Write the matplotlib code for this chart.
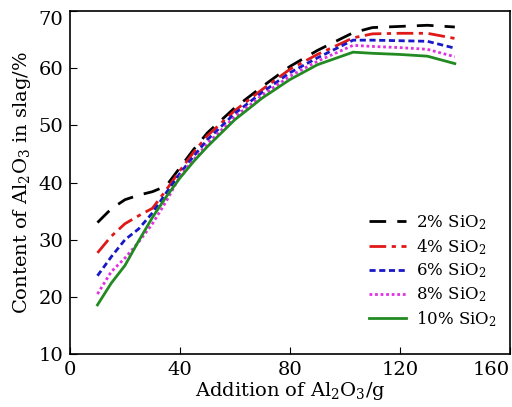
import numpy as np
import matplotlib
matplotlib.use("Agg")
import matplotlib.pyplot as plt

plt.rcParams["font.family"] = ["DejaVu Serif"]
plt.rcParams["mathtext.fontset"] = "dejavuserif"

# Al2O3 addition (g)
addition = [10, 15, 20, 25, 30, 35, 40, 45, 50, 60, 70, 80, 90, 103, 110, 120, 130, 140]

# Al2O3 content in slag (%) for each SiO2 level
sio2_2 = [33.0, 35.4, 37.0, 37.8, 38.4, 39.4, 42.6, 45.8, 48.7, 53.1, 56.8, 60.3, 63.1, 66.2, 67.1, 67.3, 67.5, 67.2]
sio2_4 = [27.7, 30.6, 32.8, 34.2, 35.5, 38.7, 42.1, 45.3, 48.2, 52.6, 56.3, 59.8, 62.4, 65.3, 66.0, 66.1, 66.1, 65.2]
sio2_6 = [23.7, 27.0, 30.0, 31.9, 34.7, 38.2, 41.6, 44.6, 47.5, 52.1, 55.8, 59.2, 61.8, 64.9, 64.9, 64.8, 64.7, 63.5]
sio2_8 = [20.5, 24.4, 26.8, 29.6, 32.8, 36.7, 41.1, 44.0, 46.8, 51.5, 55.3, 58.6, 61.2, 64.0, 63.8, 63.6, 63.3, 62.0]
sio2_10 = [18.6, 22.4, 25.5, 29.8, 33.9, 37.5, 40.8, 43.7, 46.3, 51.0, 54.8, 58.0, 60.6, 62.8, 62.6, 62.4, 62.1, 60.8]

labels = ["2% SiO$_2$", "4% SiO$_2$", "6% SiO$_2$", "8% SiO$_2$", "10% SiO$_2$"]
series = [sio2_2, sio2_4, sio2_6, sio2_8, sio2_10]
colors = ["black", "#e01818", "#1818c8", "#e030e0", "#218a21"]
styles = [(0, (6, 4)), (0, (6, 2, 1.5, 2)), (0, (2.2, 1.3)), (0, (1, 1)), "-"]

fig = plt.figure(figsize=(5.12, 4.07), dpi=100)
ax = fig.add_axes([0.1367, 0.130, 0.859, 0.843])

for y, lab, c, ls in zip(series, labels, colors, styles):
    ax.plot(addition, y, color=c, linestyle=ls, linewidth=2, label=lab)

ax.set_xlim(0, 160)
ax.set_ylim(10, 70)
ax.set_xticks([0, 40, 80, 120, 160])
ax.set_yticks([10, 20, 30, 40, 50, 60, 70])
ax.tick_params(direction="in", length=5, labelsize=14, pad=5)
ax.get_xticklabels()[-1].set_horizontalalignment("right")
ax.get_yticklabels()[-1].set_verticalalignment("top")
ax.set_xlabel("Addition of Al$_2$O$_3$/g", fontsize=14, labelpad=1)
ax.set_ylabel("Content of Al$_2$O$_3$ in slag/%", fontsize=14, labelpad=4)
for s in ax.spines.values():
    s.set_linewidth(1.2)

ax.legend(loc="lower right", bbox_to_anchor=(1.005, 0.03), frameon=False,
          fontsize=12, handlelength=2.2, labelspacing=0.3, handletextpad=0.6)

fig.savefig("out.png", dpi=100)
